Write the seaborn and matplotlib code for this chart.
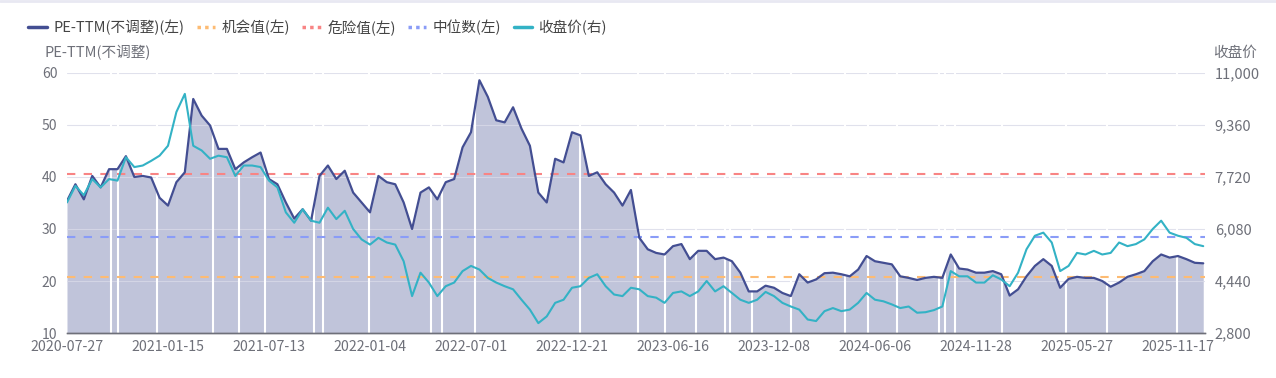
import numpy as np
import pandas as pd
import seaborn as sns
import matplotlib.pyplot as plt
from matplotlib.lines import Line2D
from matplotlib.ticker import FuncFormatter

pe_ttm = [35.4, 38.6, 35.7, 40.2, 38.0, 41.5, 41.5, 44.0, 40.0, 40.2,
          39.9, 36.0, 34.5, 39.0, 40.9, 55.0, 51.8, 49.9, 45.4, 45.4,
          41.5, 42.8, 43.8, 44.7, 39.6, 38.6, 35.1, 32.0, 33.8, 31.6,
          40.2, 42.2, 39.6, 41.2, 37.0, 35.1, 33.2, 40.2, 39.0, 38.6,
          35.1, 30.0, 37.0, 38.0, 35.7, 39.0, 39.6, 45.7, 48.6, 58.6,
          55.4, 50.9, 50.5, 53.4, 49.3, 46.0, 37.0, 35.1, 43.5, 42.8,
          48.6, 48.0, 40.2, 40.9, 38.6, 37.0, 34.5, 37.5, 28.3, 26.1,
          25.4, 25.1, 26.7, 27.1, 24.2, 25.8, 25.8, 24.2, 24.5, 23.8,
          21.6, 18.0, 18.0, 19.1, 18.7, 17.7, 17.1, 21.3, 19.7, 20.3,
          21.5, 21.6, 21.3, 20.9, 22.2, 24.8, 23.8, 23.5, 23.2, 20.9,
          20.6, 20.2, 20.6, 20.8, 20.6, 25.1, 22.4, 22.2, 21.6, 21.6,
          21.9, 21.3, 17.2, 18.4, 20.9, 22.9, 24.2, 22.9, 18.7, 20.4,
          20.8, 20.6, 20.6, 20.0, 18.9, 19.7, 20.8, 21.3, 21.9, 23.8,
          25.1, 24.5, 24.8, 24.2, 23.5, 23.4]

close = [6916, 7441, 7146, 7654, 7392, 7654, 7605, 8343, 8032, 8081,
         8228, 8392, 8704, 9770, 10340, 8704, 8556, 8294, 8392, 8343,
         7753, 8081, 8081, 8032, 7605, 7392, 6605, 6277, 6703, 6342,
         6277, 6752, 6392, 6654, 6080, 5752, 5588, 5801, 5654, 5588,
         5063, 3964, 4702, 4391, 3964, 4276, 4391, 4752, 4916, 4801,
         4538, 4391, 4276, 4178, 3850, 3538, 3112, 3325, 3751, 3850,
         4227, 4276, 4538, 4653, 4276, 4014, 3964, 4227, 4178, 3964,
         3915, 3751, 4063, 4112, 3964, 4112, 4440, 4112, 4276, 4063,
         3850, 3751, 3850, 4096, 3964, 3751, 3636, 3538, 3226, 3177,
         3489, 3587, 3489, 3538, 3751, 4063, 3850, 3800, 3702, 3587,
         3636, 3440, 3456, 3522, 3636, 4752, 4588, 4588, 4391, 4391,
         4620, 4489, 4276, 4702, 5440, 5867, 5965, 5654, 4752, 4916,
         5326, 5276, 5391, 5276, 5326, 5654, 5539, 5604, 5752, 6080,
         6342, 5965, 5867, 5801, 5604, 5539]

# trading days with no PE value (white gaps in the area)
gap_days = [52, 61, 107, 173, 204, 235, 293, 304, 359, 432, 445, 485, 610,
            679, 711, 747, 782, 788, 814, 860, 924, 952, 986, 1036, 1043,
            1055, 1111, 1187, 1236, 1319]

tick_labels = ['2020-07-27', '2021-01-15', '2021-07-13', '2022-01-04',
               '2022-07-01', '2022-12-21', '2023-06-16', '2023-12-08',
               '2024-06-06', '2024-11-28', '2025-05-27', '2025-11-17']

opportunity = 20.8
danger = 40.6
median = 28.5

sns.set_style("white")
plt.rcParams['font.family'] = ['Noto Sans CJK SC', 'DejaVu Sans']
plt.rcParams['font.size'] = 10.5

df = pd.DataFrame({'day': np.arange(len(pe_ttm)) * 10, 'pe': pe_ttm, 'close': close})

c_pe = '#434e92'
c_fill = '#c0c4da'
c_close = '#33b2c5'
c_opp = '#fdbb73'
c_danger = '#f88484'
c_median = '#8a9cf7'
c_text = '#6e7079'

fig = plt.figure(figsize=(12.76, 3.78), dpi=100)
ax = fig.add_axes([0.0525, 0.119, 0.8918, 0.688])
ax2 = ax.twinx()

ax.fill_between(df['day'], 10, df['pe'], color=c_fill, lw=0, zorder=1)
for d in gap_days:
    ax.axvline(d, color='white', lw=1.5, zorder=1.5)
for t in range(10, 61, 10):
    ax.axhline(t, color='#d9dae8', lw=0.8, alpha=0.8, zorder=1.2)

sns.lineplot(data=df, x='day', y='pe', ax=ax, color=c_pe, lw=1.6, zorder=3)
ax.axhline(opportunity, color=c_opp, lw=1.5, dashes=(4, 4), zorder=2)
ax.axhline(danger, color=c_danger, lw=1.5, dashes=(4, 4), zorder=2)
ax.axhline(median, color=c_median, lw=1.5, dashes=(4, 4), zorder=2)

sns.lineplot(data=df, x='day', y='close', ax=ax2, color=c_close, lw=1.5)

ax.set_xlim(0, 1352)
ax.set_ylim(10, 60)
ax.set_yticks(range(10, 61, 10))
ax2.set_ylim(2800, 11000)
ax2.set_yticks([2800, 4440, 6080, 7720, 9360, 11000])
ax2.yaxis.set_major_formatter(FuncFormatter(lambda v, p: f'{v:,.0f}'))
ax.set_xticks(np.arange(len(tick_labels)) * 120)
ax.set_xticklabels(tick_labels)

for a in (ax, ax2):
    a.set_xlabel('')
    a.set_ylabel('')
    for s in ['top', 'left', 'right']:
        a.spines[s].set_visible(False)
    a.spines['bottom'].set_color(c_text)
    a.spines['bottom'].set_linewidth(1)
    a.tick_params(length=0, colors=c_text, labelsize=10.5)
ax.tick_params(axis='y', pad=7, labelsize=10)
ax2.tick_params(axis='y', pad=7)
ax.tick_params(axis='x', pad=5, labelsize=10.2)

ax.text(-0.02, 1.077, 'PE-TTM(不调整)', transform=ax.transAxes, color=c_text,
        fontsize=10.5, va='center', ha='left')
ax2.text(1.007, 1.077, '收盘价', transform=ax.transAxes, color=c_text,
         fontsize=10.5, va='center', ha='left')

handles = [
    Line2D([], [], color=c_pe, lw=2.5),
    Line2D([], [], color=c_opp, lw=2.5, dashes=(1, 1.2)),
    Line2D([], [], color=c_danger, lw=2.5, dashes=(1, 1.2)),
    Line2D([], [], color=c_median, lw=2.5, dashes=(1, 1.2)),
    Line2D([], [], color=c_close, lw=2.5),
]
labels = ['PE-TTM(不调整)(左)', '机会值(左)', '危险值(左)', '中位数(左)', '收盘价(右)']
leg = fig.legend(handles, labels, loc='center left', bbox_to_anchor=(0.012, 0.928),
                 ncol=5, frameon=False, handlelength=1.25, handletextpad=0.45,
                 columnspacing=0.85, fontsize=10.5)
for t in leg.get_texts():
    t.set_color('#444444')

fig.add_artist(Line2D([0, 1], [0.997, 0.997], transform=fig.transFigure,
                      color='#e8e8f2', lw=2))

fig.savefig('out.png', dpi=100)
